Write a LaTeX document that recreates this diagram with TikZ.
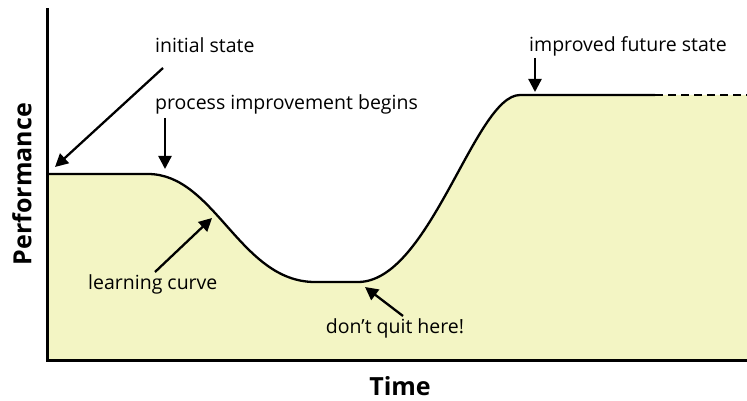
\documentclass[tikz,border=0pt]{standalone}
\usepackage{fontspec}
\setmainfont{Open Sans}
\usetikzlibrary{arrows.meta}
\definecolor{fillc}{RGB}{243,245,196}
\begin{document}
\begin{tikzpicture}[x=1pt,y=-1pt,
  lbl/.style={font=\fontsize{19.5}{23}\selectfont, inner sep=0pt},
  axlbl/.style={font=\fontsize{25}{29}\selectfont\bfseries, inner sep=0pt},
  ptr/.style={line width=2.3pt, -{Triangle[length=13pt,width=13pt]}},
  curveline/.style={line width=2.3pt},
  axisline/.style={line width=3pt, line cap=rect}]
\useasboundingbox (0,0) rectangle (747,401);
\fill[fillc] (47,174) -- (148,174) .. controls (215,174) and (240,282) .. (315,282) -- (358,282) .. controls (430,282) and (475,95) .. (520,95) -- (747,95) -- (747,360) -- (47,360) -- cycle;
\draw[curveline] (47,174) -- (148,174) .. controls (215,174) and (240,282) .. (315,282) -- (358,282) .. controls (430,282) and (475,95) .. (520,95) -- (655,95);
\draw[curveline, dash pattern=on 8pt off 5pt] (655,95) -- (747,95);
\draw[axisline] (47,10) -- (47,360) -- (747,360);

\node[axlbl, rotate=90] (perf) at (22,184) {Performance};
\node[axlbl] (time) at (400,386) {Time};

\node[lbl, anchor=west] (init) at (155,45) {initial state};
\node[lbl, anchor=west] (proc) at (155,104) {process improvement begins};
\node[lbl, anchor=west] (impr) at (529,46) {improved future state};
\node[lbl, anchor=west] (learn) at (88,284) {learning curve};
\node[lbl] (quit) at (395,328) {don’t quit here!};

\coordinate (initS) at (163,68);
\coordinate (initE) at (55,167);
\coordinate (procS) at (165,118);
\coordinate (procE) at (165,169);
\coordinate (imprS) at (535,58);
\coordinate (imprE) at (535,92);
\coordinate (learnS) at (155,272);
\coordinate (learnE) at (212,218);
\coordinate (quitS) at (403,316);
\coordinate (quitE) at (365,287);

\draw[ptr] (initS) -- (initE);
\draw[ptr] (procS) -- (procE);
\draw[ptr] (imprS) -- (imprE);
\draw[ptr] (learnS) -- (learnE);
\draw[ptr] (quitS) -- (quitE);
\end{tikzpicture}
\end{document}
